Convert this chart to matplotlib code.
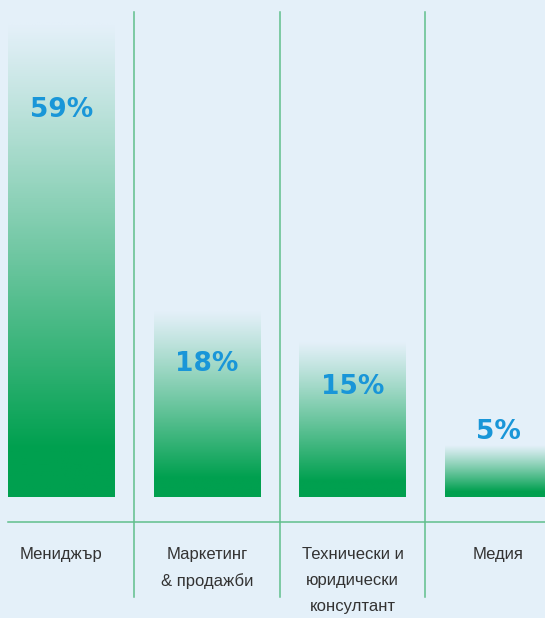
import numpy as np
import matplotlib.pyplot as plt
import matplotlib.transforms as mtransforms
from matplotlib.colors import LinearSegmentedColormap

# Datos
categorias = ["Мениджър", "Маркетинг\n& продажби", "Технически и\nюридически\nконсултант", "Медия"]
valores = [59, 18, 15, 5]

# colores
fondo = "#e4f0f9"
verde = "#00a04f"
linea = "#5fbf8c"
azul = "#1996d8"

# escala: 10.38 px por punto porcentual, base a 497 px del borde superior
px = 10.38
y_max = 497 / px
y_min = (497 - 618) / px
tope = (497 - 22) / px          # barras mas altas se cortan aqui

# desplazamiento de la etiqueta respecto a la cima de la barra (en px)
desp = [-88, -54, -46, 13]

cmap = LinearSegmentedColormap.from_list("grad", [fondo, verde])

fig = plt.figure(figsize=(5.45, 6.18), dpi=100, facecolor=fondo)
ax = fig.add_axes([0, 0, 1, 1])
ax.set_facecolor(fondo)
ax.axis("off")

ancho = 0.735
x = np.arange(len(valores))

# degradado vertical: fondo arriba, verde solido en el 10% inferior
# fila 0 = base de la barra
grad = (np.clip(np.linspace(1, 0, 256) / 0.9, 0, 1) ** 1.1)[:, None]

for i, v in enumerate(valores):
    h = min(v, tope)
    ax.imshow(grad, extent=(i - ancho / 2, i + ancho / 2, h, 0), cmap=cmap,
              vmin=0, vmax=1, aspect="auto", origin="upper", zorder=1)
    ax.annotate(f"{v}%", xy=(i, h), xytext=(0, desp[i] * 0.72),
                textcoords="offset points", ha="center", va="center",
                fontsize=19, fontweight="bold", color=azul,
                family="DejaVu Sans", zorder=3)

# lineas separadoras
for xi in x[:-1] + 0.5:
    ax.axvline(xi, ymin=1 - 597 / 618, ymax=1 - 12 / 618, color=linea, lw=1.1, zorder=2)
ax.axhline(-25 / px, xmin=8 / 545, xmax=1, color=linea, lw=1.1, zorder=2)

# categorias
trans = mtransforms.blended_transform_factory(ax.transData, ax.transAxes)
for i, c in enumerate(categorias):
    ax.text(i, 1 - 547 / 618, c, transform=trans, ha="center", va="top",
            fontsize=12, color="#333333", linespacing=1.9,
            family=["Liberation Sans", "DejaVu Sans"])

ax.set_xlim(-61.5 / 145.5, (545 - 61.5) / 145.5)
ax.set_ylim(y_min, y_max)

plt.savefig("out.png", dpi=100, facecolor=fondo)
